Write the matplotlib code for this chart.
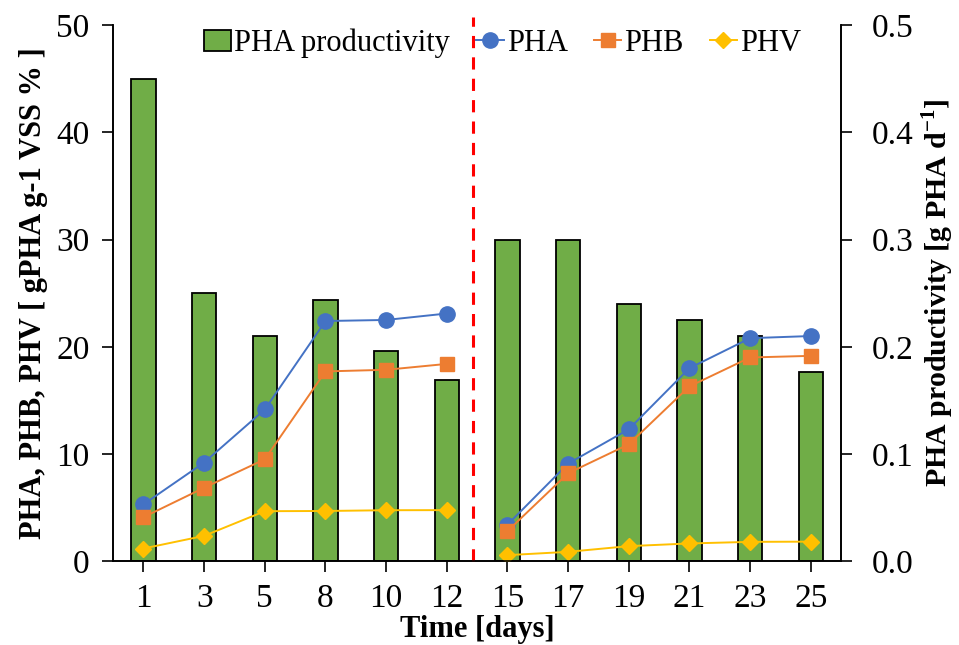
import matplotlib
matplotlib.use('Agg')
import matplotlib.pyplot as plt
import numpy as np

plt.rcParams['font.family'] = ['Liberation Serif', 'DejaVu Serif']
plt.rcParams['mathtext.fontset'] = 'custom'
plt.rcParams['mathtext.rm'] = 'Liberation Serif'
plt.rcParams['mathtext.bf'] = 'Liberation Serif:bold'

days = ['1', '3', '5', '8', '10', '12', '15', '17', '19', '21', '23', '25']
pha = [5.3, 9.2, 14.15, 22.4, 22.5, 23.1, 3.4, 9.1, 12.3, 18.0, 20.8, 21.0]
phb = [4.1, 6.85, 9.5, 17.7, 17.85, 18.4, 2.8, 8.2, 10.9, 16.3, 19.0, 19.15]
phv = [1.18, 2.36, 4.66, 4.68, 4.75, 4.76, 0.56, 0.87, 1.4, 1.65, 1.8, 1.82]
productivity = [0.45, 0.25, 0.21, 0.2435, 0.196, 0.169, 0.30, 0.30, 0.24, 0.225, 0.21, 0.1766]
split = 6  # run 1 = days 1-12, run 2 = days 15-25

x = np.arange(len(days))

fig = plt.figure(figsize=(9.59, 6.45), dpi=100)
ax1 = fig.add_axes([0.118, 0.130, 0.759, 0.831])
ax2 = ax1.twinx()

# bars on the right axis, lines on the left axis drawn on top
ax2.bar(x, productivity, width=0.4, color='#70AD47', edgecolor='black', linewidth=1.3,
        label='PHA productivity')
ax1.set_zorder(ax2.get_zorder() + 1)
ax1.patch.set_visible(False)

series = [(pha, '#4472C4', 'o', 11, 'PHA'),
          (phb, '#ED7D31', 's', 10.5, 'PHB'),
          (phv, '#FFC000', 'D', 8.5, 'PHV')]
for vals, col, mk, ms, name in series:
    ax1.plot(x[:split], vals[:split], color=col, marker=mk, markersize=ms, lw=1.4, label=name)
    ax1.plot(x[split:], vals[split:], color=col, marker=mk, markersize=ms, lw=1.4)

ax1.axvline(split - 0.57, ymax=1.015, color='#FF0000', lw=2.2, ls=(0, (4, 3)), clip_on=False)

ax1.set_xlim(-0.5, len(days) - 0.5)
ax1.set_ylim(0, 50)
ax2.set_ylim(0, 0.5)
ax1.set_yticks(np.arange(0, 51, 10))
ax2.set_yticks(np.arange(0, 0.51, 0.1))
ax2.set_yticklabels(['%.1f' % v for v in np.arange(0, 0.51, 0.1)])
ax1.set_xticks(x)
ax1.set_xticklabels(days)

for ax in (ax1, ax2):
    ax.spines['top'].set_visible(False)
    ax.tick_params(labelsize=24, direction='out', length=8, width=1.2, pad=9)
    for s in ax.spines.values():
        s.set_linewidth(1.2)
ax2.tick_params(axis='y', pad=14)
ax1.tick_params(axis='x', pad=8)

ax1.set_xlabel('Time [days]', fontsize=22, fontweight='bold', labelpad=1)
ax1.set_ylabel('PHA, PHB, PHV [ gPHA g-1 VSS % ]', fontsize=22, fontweight='bold', labelpad=6)
ax2.set_ylabel(r'PHA productivity [g PHA d$^{\mathbf{-1}}$]', fontsize=21.5, fontweight='bold', labelpad=4)

h2, l2 = ax2.get_legend_handles_labels()
h1, l1 = ax1.get_legend_handles_labels()
ax1.legend(h2 + h1, l2 + l1, ncol=4, loc='upper center', bbox_to_anchor=(0.535, 1.045),
           frameon=False, fontsize=22, handlelength=0.9, handletextpad=0.1, columnspacing=0.85)

fig.savefig('out.png', dpi=100)
